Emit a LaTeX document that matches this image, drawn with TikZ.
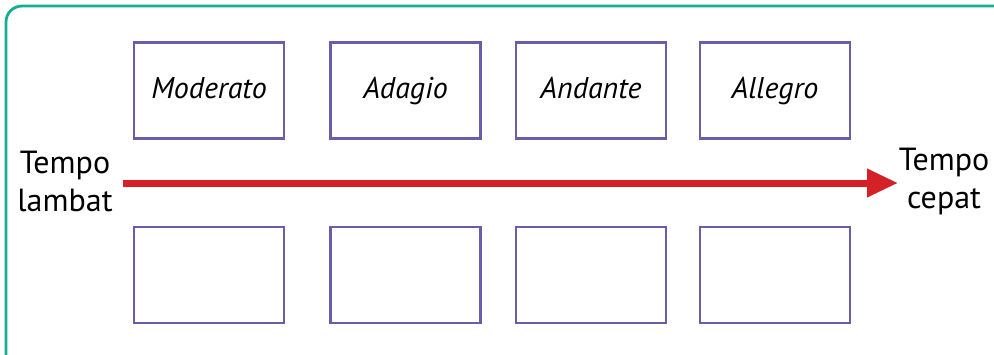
\documentclass[tikz,border=0pt]{standalone}
\usepackage{fontspec}
\setmainfont{PT Sans}
\usetikzlibrary{arrows.meta,positioning}
\definecolor{frameteal}{HTML}{14AE93}
\definecolor{boxpurple}{HTML}{6B5DAA}
\definecolor{arrowred}{HTML}{D42027}

\begin{document}
\begin{tikzpicture}[
  x=1pt, y=-1pt,
  font=\fontsize{32}{38}\selectfont,
  tempo/.style={draw=boxpurple, line width=2.2pt, minimum width=150pt,
                minimum height=96pt, inner sep=0pt, text height=15pt, text depth=0pt,
                font=\fontsize{30}{36}\selectfont\itshape},
  side/.style={align=center, inner sep=0pt},
  arr/.style={-{Triangle[length=31pt, width=27pt]}, draw=arrowred, line width=7pt}
]
\useasboundingbox (0,0) rectangle (994,354);
\clip (0,0) rectangle (994,354);
\draw[frameteal, line width=2.8pt, rounded corners=16pt] (6,6) rectangle (1012,372);

% top row
\node[tempo] (mod) at (209,90.5) {Moderato};
\node[tempo] (ada) at (405.5,90.5) {Adagio};
\node[tempo] (and) at (591,90.5) {Andante};
\node[tempo] (all) at (775,90.5) {Allegro};
% bottom row
\node[tempo] (b1) at (209,275) {};
\node[tempo] (b2) at (405.5,275) {};
\node[tempo] (b3) at (591,275) {};
\node[tempo] (b4) at (775,275) {};

\node[side] (slow) at (65,181) {Tempo\\lambat};
\node[side] (fast) at (944,181) {Tempo\\cepat};

\coordinate (start) at (123,183);
\coordinate (tip) at (898,183);
\draw[arr] (start) -- (tip);
\end{tikzpicture}
\end{document}
